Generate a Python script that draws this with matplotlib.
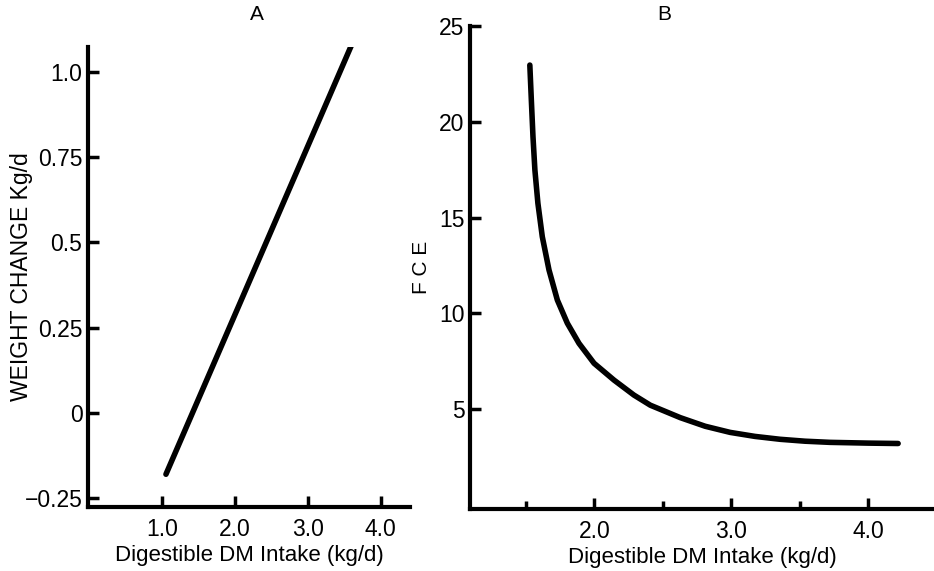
import matplotlib.pyplot as plt

plt.rcParams['font.family'] = ['Liberation Sans', 'DejaVu Sans']

# panel A: weight change against digestible DM intake
intake_a = [1.05, 3.60]
weight_change = [-0.18, 1.08]
a_yticks = [-0.25, 0, 0.25, 0.5, 0.75, 1.0]
a_ylabels = ['\u22120.25', '0', '0.25', '0.5', '0.75', '1.0']
a_xticks = [1.0, 2.0, 3.0, 4.0]
a_xlabels = ['1.0', '2.0', '3.0', '4.0']

# panel B: FCE against digestible DM intake
intake_b = [1.528, 1.539, 1.551, 1.565, 1.587, 1.619, 1.668, 1.729, 1.802,
            1.887, 1.997, 2.143, 2.288, 2.408, 2.627, 2.809, 2.991, 3.173,
            3.356, 3.538, 3.720, 4.00, 4.218]
fce = [22.96, 21.14, 19.22, 17.48, 15.74, 14.0, 12.26, 10.69, 9.48,
       8.43, 7.39, 6.51, 5.73, 5.2, 4.55, 4.1, 3.78, 3.57,
       3.42, 3.32, 3.26, 3.22, 3.2]
b_yticks = [5, 10, 15, 20, 25]
b_xticks = [2.0, 3.0, 4.0]
b_xlabels = ['2.0', '3.0', '4.0']
b_minor = [1.5, 2.5, 3.5]

fig = plt.figure(figsize=(9.34, 5.71), dpi=100)
axA = fig.add_axes([88 / 934, 64 / 571, 322 / 934, 460 / 571])
axB = fig.add_axes([470 / 934, 62 / 571, 464 / 934, 483 / 571])

for ax in (axA, axB):
    ax.spines['top'].set_visible(False)
    ax.spines['right'].set_visible(False)
    ax.spines['left'].set_linewidth(3)
    ax.spines['bottom'].set_linewidth(3)
    ax.tick_params(direction='in', length=8, width=2.5, labelsize=16.5)
    ax.tick_params(axis='x', pad=8)
    ax.tick_params(axis='y', pad=4)

# A
axA.plot(intake_a, weight_change, color='black', lw=4, solid_capstyle='round')
axA.set_xlim(-0.02, 4.40)
axA.set_ylim(-0.276, 1.073)
axA.set_yticks(a_yticks)
axA.set_yticklabels(a_ylabels)
axA.set_xticks(a_xticks)
axA.set_xticklabels(a_xlabels)
axA.set_xlabel('Digestible DM Intake (kg/d)', fontsize=16, labelpad=3)
axA.set_ylabel('WEIGHT CHANGE Kg/d', fontsize=16.5)
axA.yaxis.set_label_coords(-0.17, 0.5)

# B
axB.plot(intake_b, fce, color='black', lw=4, solid_capstyle='round',
         solid_joinstyle='round')
axB.set_xlim(1.091, 4.48)
axB.set_ylim(-0.22, 25)
axB.set_yticks(b_yticks)
axB.set_xticks(b_xticks)
axB.set_xticklabels(b_xlabels)
axB.set_xticks(b_minor, minor=True)
axB.tick_params(axis='x', which='minor', direction='in', length=6, width=2.5)
axB.set_xlabel('Digestible DM Intake (kg/d)', fontsize=16, labelpad=3)
axB.set_ylabel('F C E', fontsize=15)
axB.yaxis.set_label_coords(-0.085, 0.5)

fig.text(257 / 934, 1 - 14 / 571, 'A', fontsize=15, ha='center', va='center')
fig.text(664 / 934, 1 - 15 / 571, 'B', fontsize=15, ha='center', va='center')

fig.savefig('out.png', dpi=100)
